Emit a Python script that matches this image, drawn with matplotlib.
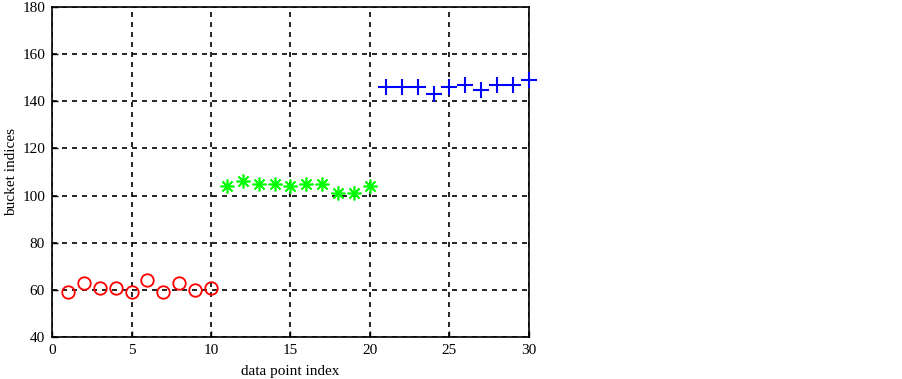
import numpy as np
import matplotlib
matplotlib.use("Agg")
import matplotlib.pyplot as plt

plt.rcParams.update({
    "font.family": ["Liberation Serif", "DejaVu Serif"],
    "font.size": 11,
    "xtick.direction": "in",
    "ytick.direction": "in",
})

# ── Data ──────────────────────────────────────────────────────────────────────
idx_red = list(range(1, 11))
val_red = [59, 63, 61, 61, 59, 64, 59, 63, 60, 61]

idx_green = list(range(11, 21))
val_green = [104, 106, 105, 105, 104, 105, 105, 101, 101, 104]

idx_blue = list(range(21, 31))
val_blue = [146, 146, 146, 143, 146, 147, 145, 147, 147, 149]

x_ticks = [0, 5, 10, 15, 20, 25, 30]
y_ticks = [40, 60, 80, 100, 120, 140, 160, 180]

# ── Plot ──────────────────────────────────────────────────────────────────────
fig = plt.figure(figsize=(9.03, 3.79), dpi=100)
ax = fig.add_axes([0.0576, 0.1108, 0.5282, 0.8707])

ax.plot(idx_red, val_red, "o", ms=9, mfc="none", mec="#ff0000", mew=1.3,
        clip_on=False, zorder=3)
ax.plot(idx_green, val_green, ls="none", marker=(8, 2, 0), ms=10,
        mec="#00ff00", mew=1.2, clip_on=False, zorder=3)
ax.plot(idx_blue, val_blue, "+", ms=11, mec="#0000ff", mew=1.5,
        clip_on=False, zorder=3)

ax.set_xlim(0, 30)
ax.set_ylim(40, 180)
ax.set_xticks(x_ticks)
ax.set_yticks(y_ticks)
ax.grid(True, color="black", ls=(0, (3, 3)), lw=1.2)
ax.set_axisbelow(True)
for s in ax.spines.values():
    s.set_linewidth(1.2)
ax.tick_params(length=4, width=1, pad=5)

ax.set_xlabel("data point index", labelpad=6)
ax.set_ylabel("bucket indices", labelpad=3)

fig.savefig("out.png", dpi=100, facecolor="white")
